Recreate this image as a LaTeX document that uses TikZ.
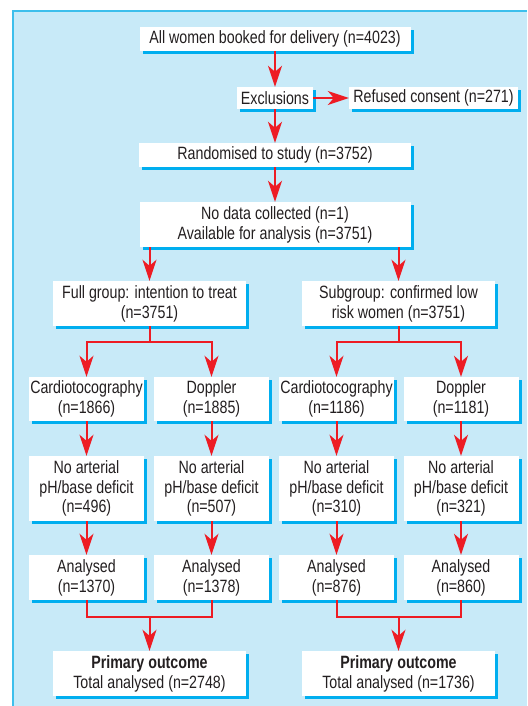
\documentclass[tikz,border=0pt]{standalone}
\usepackage{fontspec}
\setmainfont{Liberation Sans}[FakeStretch=0.8]
\usetikzlibrary{arrows.meta,shadows}
\definecolor{bgc}{HTML}{C8EAF8}
\definecolor{bordc}{HTML}{3DBFEC}
\definecolor{shc}{HTML}{00AEEF}
\definecolor{arrc}{HTML}{ED1C24}
\definecolor{txtc}{HTML}{231F20}
\begin{document}
\begin{tikzpicture}[x=1pt,y=-1pt,
  box/.style={fill=white, draw=none, align=center, inner sep=0pt, text=txtc,
    font=\fontsize{17.8}{19.8}\selectfont,
    drop shadow={shadow xshift=3pt, shadow yshift=-3pt, fill=shc, opacity=1}},
  arr/.style={draw=arrc, line width=2pt, -{Stealth[length=21pt,width=14pt,inset=6pt]}},
  ln/.style={draw=arrc, line width=2pt}]
\useasboundingbox (0,0) rectangle (527,706);
\fill[bgc] (12,10) rectangle (527,706);
\draw[bordc, line width=2pt] (13,706) -- (13,11) -- (527,11);

\node[box, minimum width=271pt, minimum height=24pt] (top) at (275,39) {All women booked for delivery (n=4023)};
\node[box, minimum width=76pt, minimum height=22pt] (ex) at (275,98) {Exclusions};
\node[box, minimum width=169pt, minimum height=22pt] (ref) at (433.5,98) {Refused consent (n=271)};
\node[box, minimum width=272pt, minimum height=24pt] (rand) at (275,155) {Randomised to study (n=3752)};
\node[box, minimum width=271pt, minimum height=45pt] (nod) at (275,224.5) {No data collected (n=1)\\Available for analysis (n=3751)};

\node[box, minimum width=193pt, minimum height=45pt] (full) at (149.5,303.5) {Full group: intention to treat\\(n=3751)};
\node[box, minimum width=193pt, minimum height=45pt] (sub) at (398.5,303.5) {Subgroup: confirmed low\\risk women (n=3751)};

\node[box, minimum width=115pt, minimum height=44pt] (c1) at (86.5,399) {Cardiotocography\\(n=1866)};
\node[box, minimum width=115pt, minimum height=44pt] (d1) at (211.5,399) {Doppler\\(n=1885)};
\node[box, minimum width=115pt, minimum height=44pt] (c2) at (336.5,399) {Cardiotocography\\(n=1186)};
\node[box, minimum width=115pt, minimum height=44pt] (d2) at (461,399) {Doppler\\(n=1181)};

\node[box, minimum width=115pt, minimum height=65pt] (n1) at (86.5,488.5) {No arterial\\pH/base deficit\\(n=496)};
\node[box, minimum width=115pt, minimum height=65pt] (n2) at (211.5,488.5) {No arterial\\pH/base deficit\\(n=507)};
\node[box, minimum width=115pt, minimum height=65pt] (n3) at (336.5,488.5) {No arterial\\pH/base deficit\\(n=310)};
\node[box, minimum width=115pt, minimum height=65pt] (n4) at (461,488.5) {No arterial\\pH/base deficit\\(n=321)};

\node[box, minimum width=115pt, minimum height=45pt] (a1) at (86.5,577.5) {Analysed\\(n=1370)};
\node[box, minimum width=115pt, minimum height=45pt] (a2) at (211.5,577.5) {Analysed\\(n=1378)};
\node[box, minimum width=115pt, minimum height=45pt] (a3) at (336.5,577.5) {Analysed\\(n=876)};
\node[box, minimum width=115pt, minimum height=45pt] (a4) at (461,577.5) {Analysed\\(n=860)};

\node[box, minimum width=193pt, minimum height=45pt] (p1) at (149.5,673.5) {\textbf{Primary outcome}\\Total analysed (n=2748)};
\node[box, minimum width=193pt, minimum height=45pt] (p2) at (398.5,673.5) {\textbf{Primary outcome}\\Total analysed (n=1736)};

\draw[arr] (top) -- (ex);
\draw[arr] (ex) -- (ref);
\draw[arr] (ex) -- (rand);
\draw[arr] (rand) -- (nod);
\draw[arr] (full.north |- nod.south) -- (full.north);
\draw[arr] (sub.north |- nod.south) -- (sub.north);

\coordinate (j1) at (149.5,342);
\coordinate (j2) at (398.5,342);
\draw[ln] (full.south) -- (j1);
\draw[ln] (sub.south) -- (j2);
\draw[arr] (j1) -| (c1.north);
\draw[arr] (j1) -| (d1.north);
\draw[arr] (j2) -| (c2.north);
\draw[arr] (j2) -| (d2.north);

\draw[arr] (c1) -- (n1);
\draw[arr] (d1) -- (n2);
\draw[arr] (c2) -- (n3);
\draw[arr] (d2) -- (n4);
\draw[arr] (n1) -- (a1);
\draw[arr] (n2) -- (a2);
\draw[arr] (n3) -- (a3);
\draw[arr] (n4) -- (a4);

\coordinate (m1) at (149.5,617);
\coordinate (m2) at (398.5,617);
\draw[ln] (a1.south) |- (m1);
\draw[ln] (a2.south) |- (m1);
\draw[ln] (a3.south) |- (m2);
\draw[ln] (a4.south) |- (m2);
\draw[arr] (m1) -- (p1);
\draw[arr] (m2) -- (p2);
\end{tikzpicture}
\end{document}
